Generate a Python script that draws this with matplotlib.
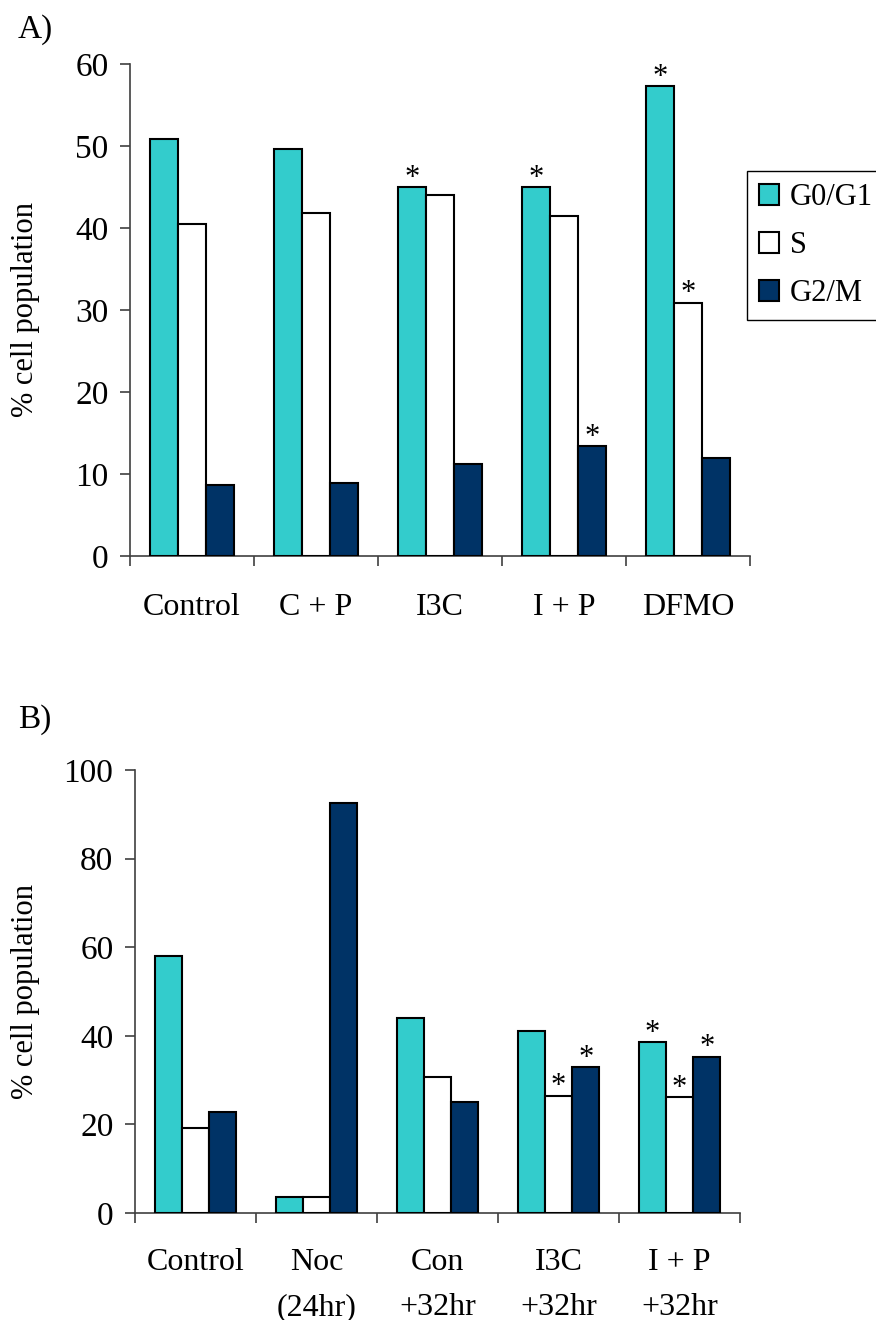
import matplotlib
matplotlib.use("Agg")
import matplotlib.pyplot as plt
import numpy as np

# ---- data ----
phases = ["G0/G1", "S", "G2/M"]
colors = ["#33CCCC", "#FFFFFF", "#003366"]

cats_a = ["Control", "C + P", "I3C", "I + P", "DFMO"]
g0_a = [50.9, 49.6, 45.0, 45.0, 57.3]
s_a = [40.5, 41.8, 44.0, 41.5, 30.9]
g2_a = [8.6, 8.9, 11.2, 13.4, 11.9]
# significance flags: (category index, phase index)
stars_a = [(2, 0), (3, 0), (3, 2), (4, 0), (4, 1)]

cats_b = ["Control", "Noc\n(24hr)", "Con\n+32hr", "I3C\n+32hr", "I + P\n+32hr"]
g0_b = [58.1, 3.7, 44.1, 41.0, 38.5]
s_b = [19.1, 3.7, 30.7, 26.5, 26.1]
g2_b = [22.8, 92.6, 25.1, 32.9, 35.3]
stars_b = [(3, 1), (3, 2), (4, 0), (4, 1), (4, 2)]

plt.rcParams['font.family'] = ['Liberation Serif', 'DejaVu Serif']

W, H = 876, 1320
fig = plt.figure(figsize=(W / 100, H / 100), dpi=100)

AXC = '#404040'

def px_axes(l, r, t, b):
    return fig.add_axes([l / W, 1 - b / H, (r - l) / W, (b - t) / H])

def draw_panel(ax, cats, series, stars, ymax, ystep, lab_x, xpad):
    n = len(cats)
    x = np.arange(n)
    bw = 0.225
    offs = [-bw, 0, bw]
    for k, vals in enumerate(series):
        ax.bar(x + offs[k], vals, width=bw, color=colors[k], edgecolor='black',
               linewidth=1.5, label=phases[k], zorder=3)
    for (i, k) in stars:
        ax.annotate('*', xy=(x[i] + offs[k], series[k][i]), xytext=(0, -4),
                    textcoords='offset points', ha='center', va='bottom',
                    fontsize=22, zorder=4)
    ax.set_xlim(-0.5, n - 0.5)
    ax.set_ylim(0, ymax)
    ax.set_yticks(np.arange(0, ymax + 0.1, ystep))
    ax.set_xticks(x)
    ax.set_xticklabels(cats, fontsize=23, linespacing=1.75)
    ax.set_xticks(np.arange(-0.5, n, 1.0), minor=True)
    ax.tick_params(axis='x', which='major', length=0, pad=xpad)
    ax.tick_params(axis='x', which='minor', length=7.5, width=1.2, color=AXC, direction='out')
    ax.tick_params(axis='y', length=7.5, width=1.2, color=AXC, direction='out',
                   labelsize=24, pad=8)
    for s in ['top', 'right']:
        ax.spines[s].set_visible(False)
    for s in ['left', 'bottom']:
        ax.spines[s].set_color(AXC)
        ax.spines[s].set_linewidth(1.2)
    ax.set_ylabel('% cell population', fontsize=22)
    ax.yaxis.set_label_coords(lab_x, 0.5)

ax1 = px_axes(130, 750, 64, 556)
draw_panel(ax1, cats_a, [g0_a, s_a, g2_a], stars_a, 60, 10, (40 - 130) / 620, 27)

ax2 = px_axes(135, 740, 770, 1213)
draw_panel(ax2, cats_b, [g0_b, s_b, g2_b], stars_b, 100, 20, (40 - 135) / 605, 25)

fig.text(18 / W, 1 - 30 / H, 'A)', fontsize=24, va='center', ha='left')
fig.text(18 / W, 1 - 720 / H, 'B)', fontsize=24, va='center', ha='left')

h, l = ax1.get_legend_handles_labels()
leg = fig.legend(h, l, loc='upper left', bbox_to_anchor=(747 / W, 1 - 171 / H),
                 fontsize=22, frameon=True, fancybox=False, edgecolor='black',
                 framealpha=1, handlelength=0.65, handleheight=0.65, handletextpad=0.36,
                 borderpad=0.4, labelspacing=0.62, borderaxespad=0)
leg.get_frame().set_linewidth(1.0)

fig.savefig('out.png', dpi=100)
